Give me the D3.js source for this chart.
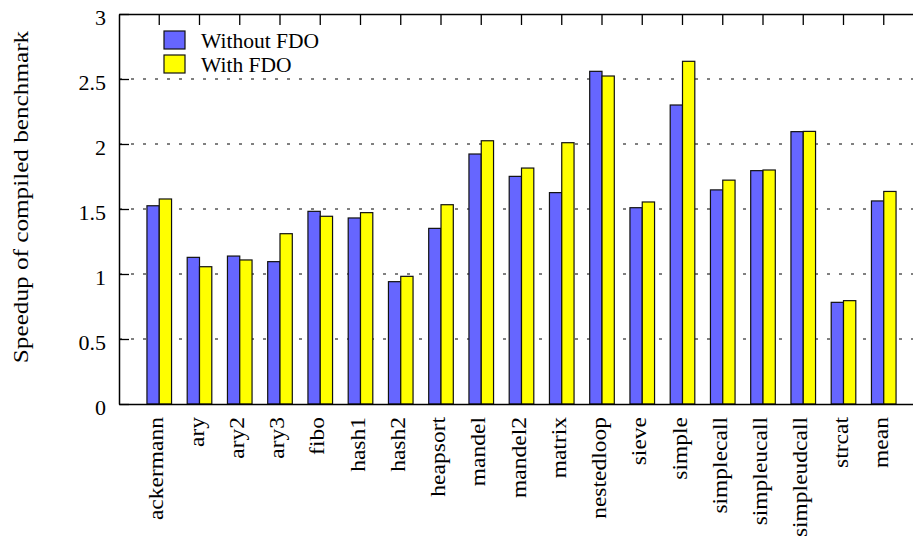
<!DOCTYPE html>
<html>
<head>
<meta charset="utf-8">
<script src="https://cdn.jsdelivr.net/npm/d3@7"></script>
<style>
  body { margin: 0; background: #fff; }
  svg { display: block; }
  svg text { font-family: "Liberation Serif", "Times New Roman", serif; }
  .grid line { stroke: #000; stroke-width: 1; stroke-dasharray: 3,9; }
</style>
</head>
<body>
<svg width="913" height="538"></svg>
<script>
var benchmarks = ["ackermann", "ary", "ary2", "ary3", "fibo", "hash1", "hash2", "heapsort",
  "mandel", "mandel2", "matrix", "nestedloop", "sieve", "simple", "simplecall",
  "simpleucall", "simpleudcall", "strcat", "mean"];
var withoutFDO = [1.525, 1.128, 1.138, 1.095, 1.482, 1.431, 0.941, 1.351, 1.923, 1.751,
  1.626, 2.559, 1.51, 2.3, 1.647, 1.795, 2.095, 0.782, 1.562];
var withFDO = [1.577, 1.056, 1.108, 1.31, 1.444, 1.472, 0.982, 1.533, 2.025, 1.815,
  2.01, 2.523, 1.554, 2.636, 1.722, 1.8, 2.097, 0.795, 1.635];
var seriesNames = ["Without FDO", "With FDO"];
var seriesColors = ["#6666ff", "#ffff00"];
var yTicks = [0, 0.5, 1, 1.5, 2, 2.5, 3];
var yLabel = "Speedup of compiled benchmark";

var serif = "'Liberation Serif', 'Times New Roman', serif";
var margin = {top: 14, left: 119},
    width = 805, height = 390;

var svg = d3.select("svg");
var g = svg.append("g").attr("transform", "translate(" + margin.left + "," + margin.top + ")");

var x0 = d3.scaleBand().domain(benchmarks).range([0, width]).paddingInner(0).paddingOuter(0.5);
var barW = 12.3;
var x1 = d3.scaleBand().domain(seriesNames)
    .range([x0.bandwidth() / 2 - barW, x0.bandwidth() / 2 + barW]);
var y = d3.scaleLinear().domain([0, 3]).range([height, 0]);

// grid
g.append("g").attr("class", "grid")
  .selectAll("line").data(yTicks.filter(function(d) { return d > 0 && d < 3; }))
  .enter().append("line")
  .attr("x1", 0).attr("x2", width)
  .attr("y1", function(d) { return y(d); }).attr("y2", function(d) { return y(d); });

// bars
var rows = benchmarks.map(function(b, i) {
  return {name: b, values: [withoutFDO[i], withFDO[i]]};
});
var groups = g.selectAll(".grp").data(rows).enter().append("g")
  .attr("class", "grp")
  .attr("transform", function(d) { return "translate(" + x0(d.name) + ",0)"; });
groups.selectAll("rect").data(function(d) {
    return d.values.map(function(v, j) { return {s: seriesNames[j], v: v, c: seriesColors[j]}; });
  })
  .enter().append("rect")
  .attr("x", function(d) { return x1(d.s); })
  .attr("width", x1.bandwidth())
  .attr("y", function(d) { return y(d.v); })
  .attr("height", function(d) { return height - y(d.v); })
  .attr("fill", function(d) { return d.c; })
  .attr("stroke", "#111").attr("stroke-width", 1.2);

// left axis
var yAxis = g.append("g")
  .call(d3.axisLeft(y).tickValues(yTicks).tickSize(-10).tickSizeOuter(0).tickPadding(13)
    .tickFormat(d3.format("")))
  .attr("font-family", serif).attr("font-size", 22);
yAxis.select(".domain").attr("stroke-width", 1.5);
yAxis.selectAll(".tick line").attr("stroke-width", 1.3);
yAxis.selectAll("text").attr("dy", "0.48em");

// top axis (ticks only)
var topAxis = g.append("g")
  .call(d3.axisTop(x0).tickSize(-11).tickSizeOuter(0).tickFormat(""));
topAxis.select(".domain").attr("stroke-width", 1.5);
topAxis.selectAll(".tick line").attr("stroke-width", 1.3);

// bottom axis with rotated labels
var xAxis = g.append("g").attr("transform", "translate(0," + height + ")")
  .call(d3.axisBottom(x0).tickSize(0).tickSizeOuter(0))
  .attr("font-family", serif).attr("font-size", 21);
xAxis.select(".domain").attr("stroke-width", 1.5);
xAxis.selectAll("text")
  .attr("text-anchor", "end")
  .attr("dy", null).attr("y", null)
  .attr("transform", "translate(4,13) rotate(-90) scale(1.12,1)");

// y axis title
svg.append("text")
  .attr("transform", "translate(28,197) rotate(-90) scale(1.2,1)")
  .attr("text-anchor", "middle")
  .attr("font-size", "21px")
  .text(yLabel);

// legend
var legend = svg.append("g").selectAll("g").data(seriesNames).enter().append("g")
  .attr("transform", function(d, i) { return "translate(164," + (31 + i * 24) + ")"; });
legend.append("rect").attr("width", 21).attr("height", 18)
  .attr("fill", function(d, i) { return seriesColors[i]; })
  .attr("stroke", "#111").attr("stroke-width", 1.2);
legend.append("text").attr("x", 37).attr("y", 17)
  .attr("font-size", "21.5px").text(function(d) { return d; });
</script>
</body>
</html>
